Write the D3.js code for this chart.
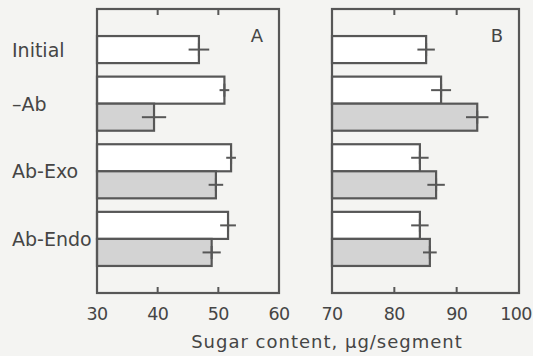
<!DOCTYPE html>
<html><head><meta charset="utf-8">
<script src="https://cdn.jsdelivr.net/npm/d3@7"></script>
<style>html,body{margin:0;padding:0;background:#f4f4f2;}svg{display:block;}</style>
</head><body>
<svg id="c" width="533" height="356"></svg>
<script>
// Data
const groups = ["Initial", "–Ab", "Ab-Exo", "Ab-Endo"];
const aControl = [46.8, 51.0, 52.1, 51.6];
const aControlErr = [1.7, 0.8, 0.8, 1.3];
const aTreated = [null, 39.4, 49.6, 48.9];
const aTreatedErr = [null, 2.0, 1.2, 1.5];
const bControl = [85.1, 87.5, 84.1, 84.1];
const bControlErr = [1.4, 1.6, 1.4, 1.4];
const bTreated = [null, 93.3, 86.7, 85.7];
const bTreatedErr = [null, 1.8, 1.4, 1.1];
const aTicks = [30, 40, 50, 60];
const bTicks = [70, 80, 90, 100];
const panelLabels = ["A", "B"];
const xTitle = "Sugar content, µg/segment";

const svg = d3.select("#c");
const stroke = "#575757";
const textCol = "#454545";
const font = "DejaVu Sans, sans-serif";

// Row slots: bar = 1 unit, gap between groups = 0.5 unit
const slotStart = [0, 1.5, 4, 6.5];
const y = d3.scaleLinear().domain([-1, 9.5]).range([9, 293]);
const barH = y(1) - y(0);

function panel(x0, x1, domain, ctrl, ctrlErr, trt, trtErr, ticks, label) {
  const x = d3.scaleLinear().domain(domain).range([x0, x1]);
  const g = svg.append("g");
  const rows = [];
  groups.forEach((gname, i) => {
    rows.push({v: ctrl[i], e: ctrlErr[i], slot: slotStart[i], fill: "#ffffff"});
    if (trt[i] != null) rows.push({v: trt[i], e: trtErr[i], slot: slotStart[i] + 1, fill: "#d3d3d3"});
  });
  g.selectAll("rect.bar").data(rows).join("rect")
    .attr("x", x(domain[0])).attr("y", d => y(d.slot))
    .attr("width", d => x(d.v) - x(domain[0])).attr("height", barH)
    .attr("fill", d => d.fill).attr("stroke", stroke).attr("stroke-width", 2.2);
  // error crosses
  g.selectAll("line.eh").data(rows).join("line")
    .attr("x1", d => x(d.v - d.e)).attr("x2", d => x(d.v + d.e))
    .attr("y1", d => y(d.slot + 0.5)).attr("y2", d => y(d.slot + 0.5))
    .attr("stroke", stroke).attr("stroke-width", 2);
  g.selectAll("line.ev").data(rows).join("line")
    .attr("x1", d => x(d.v)).attr("x2", d => x(d.v))
    .attr("y1", d => y(d.slot + 0.5) - 6.5).attr("y2", d => y(d.slot + 0.5) + 6.5)
    .attr("stroke", stroke).attr("stroke-width", 2);
  // frame
  g.append("rect").attr("x", x0).attr("y", y(-1)).attr("width", x1 - x0).attr("height", y(9.5) - y(-1))
    .attr("fill", "none").attr("stroke", stroke).attr("stroke-width", 2.2);
  // inner ticks
  const inner = ticks.slice(1, -1);
  const top = y(-1), bot = y(9.5);
  g.selectAll("line.tt").data(inner).join("line")
    .attr("x1", d => x(d)).attr("x2", d => x(d)).attr("y1", top).attr("y2", top + 6)
    .attr("stroke", stroke).attr("stroke-width", 2);
  g.selectAll("line.tb").data(inner).join("line")
    .attr("x1", d => x(d)).attr("x2", d => x(d)).attr("y1", bot).attr("y2", bot - 6)
    .attr("stroke", stroke).attr("stroke-width", 2);
  // tick labels
  g.selectAll("text.tl").data(ticks).join("text")
    .attr("x", d => x(d) - (d >= 100 ? 3 : 0)).attr("y", 320).attr("text-anchor", "middle")
    .attr("font-family", font).attr("font-size", 17.5).attr("letter-spacing", -0.6).attr("fill", textCol)
    .text(d => d);
  g.append("text").attr("x", x1 - 22).attr("y", 42).attr("text-anchor", "middle")
    .attr("font-family", font).attr("font-size", 18).attr("fill", textCol).text(label);
}

panel(97, 279, [30, 60], aControl, aControlErr, aTreated, aTreatedErr, aTicks, panelLabels[0]);
panel(332, 519, [70, 100], bControl, bControlErr, bTreated, bTreatedErr, bTicks, panelLabels[1]);

// category labels
const centers = [0.5, 2.5, 5, 7.5];
svg.selectAll("text.cat").data(groups).join("text")
  .attr("x", 12).attr("y", (d, i) => y(centers[i]) + 7)
  .attr("font-family", font).attr("font-size", 19).attr("fill", textCol)
  .text(d => d);

svg.append("text").attr("x", 327).attr("y", 348).attr("text-anchor", "middle")
  .attr("font-family", font).attr("font-size", 18).attr("letter-spacing", 1).attr("fill", textCol)
  .text(xTitle);
</script>
</body></html>
